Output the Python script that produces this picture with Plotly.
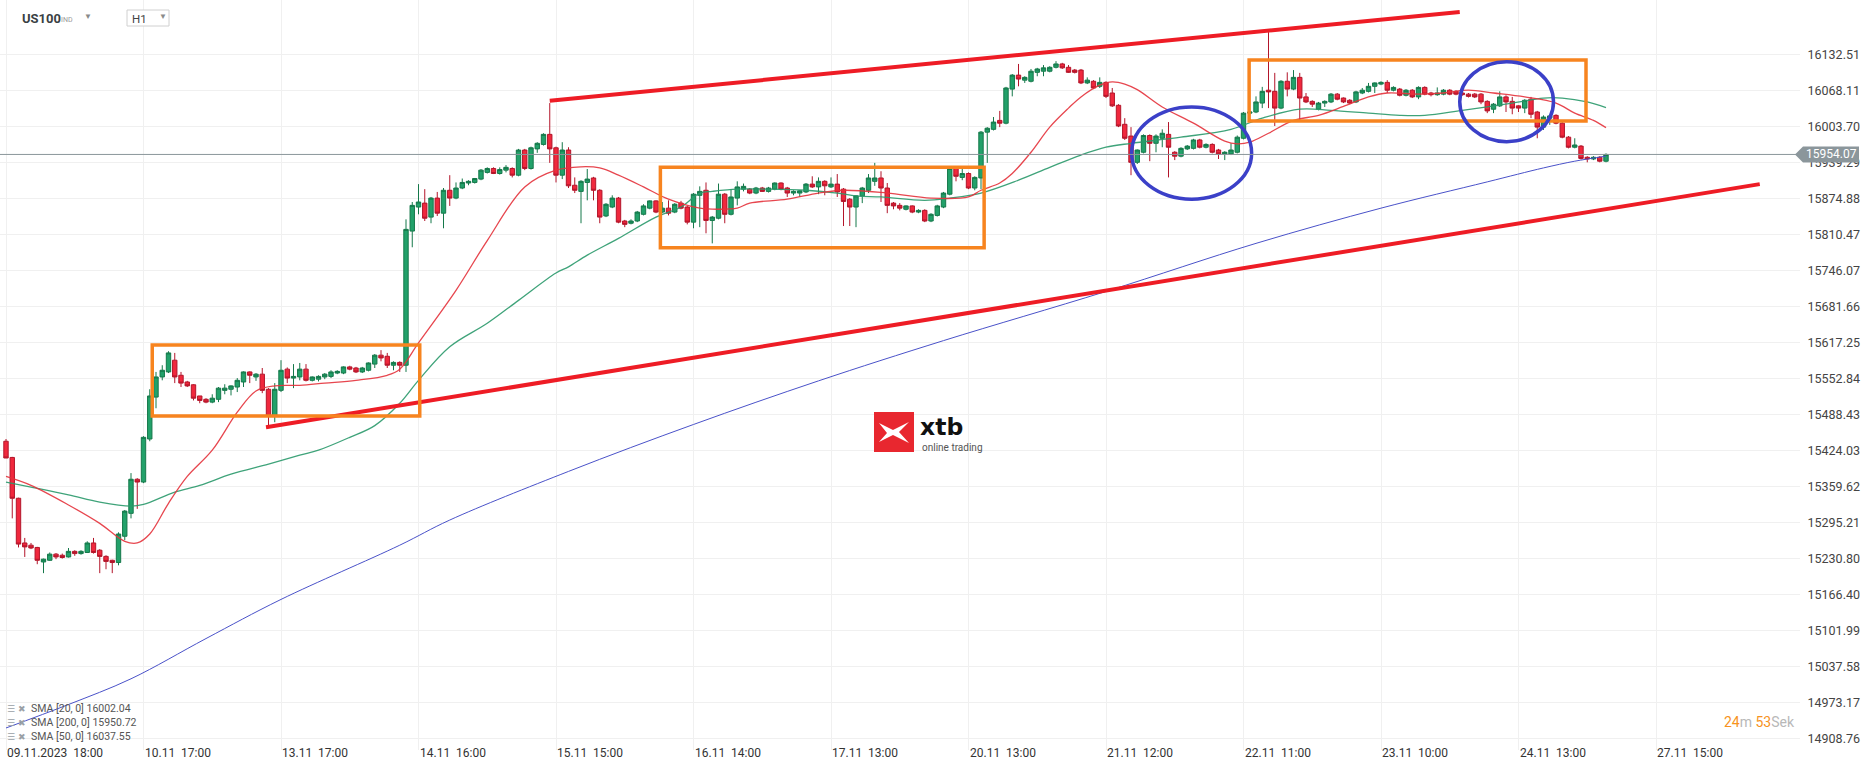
import plotly.graph_objects as go

# ---------------- data ----------------
opens = [15441,15412,15339,15259,15255,15251,15225,15228,15239,15237,
15234,15244,15240,15242,15259,15246,15235,15228,15224,15271,
15312,15373,15368,15445,15520,15556,15565,15586,15559,15547,
15542,15522,15516,15511,15516,15532,15534,15538,15547,15565,
15556,15561,15534,15486,15532,15570,15554,15556,15570,15550,
15552,15556,15557,15563,15563,15574,15572,15565,15568,15579,
15595,15593,15577,15582,15577,15817,15860,15867,15842,15876,
15849,15890,15876,15894,15903,15904,15910,15922,15929,15920,
15926,15929,15917,15962,15929,15964,15972,15990,15966,15917,
15962,15899,15888,15904,15912,15890,15844,15860,15876,15835,
15831,15835,15847,15858,15871,15851,15858,15851,15867,15860,
15833,15881,15890,15836,15840,15883,15847,15876,15892,15892,
15885,15894,15888,15892,15903,15894,15885,15885,15887,15901,
15896,15906,15896,15901,15892,15874,15860,15880,15890,15906,
15912,15894,15867,15863,15856,15862,15851,15854,15835,15845,
15860,15883,15929,15913,15920,15894,15912,15994,15999,16015,
16010,16071,16096,16087,16085,16101,16103,16103,16110,16116,
16110,16105,16105,16082,16085,16076,16083,16064,16042,16008,
15987,15940,15958,15988,15974,15983,15990,15958,15951,15964,
15965,15980,15967,15972,15962,15955,15955,15958,15983,16028,
16030,16046,16069,16067,16037,16085,16071,16092,16057,16049,
16035,16046,16048,16062,16055,16051,16048,16064,16067,16076,
16080,16083,16069,16071,16060,16069,16057,16074,16064,16061,
16062,16069,16067,16064,16062,16062,16062,16049,16035,16041,
16057,16049,16041,16037,16053,16030,16003,16019,16024,16010,
15985,15967,15969,15949,15946,15949,15942]

highs = [15445,15413,15340,15268,15259,15252,15231,15242,15241,15240,
15250,15246,15246,15262,15268,15248,15237,15229,15278,15318,
15384,15375,15450,15534,15565,15577,15602,15599,15565,15549,
15543,15522,15518,15525,15538,15543,15541,15554,15566,15566,
15563,15572,15536,15545,15586,15573,15579,15581,15579,15557,
15559,15563,15568,15568,15575,15576,15574,15574,15582,15597,
15604,15599,15584,15584,15838,15869,15901,15892,15878,15887,
15894,15917,15904,15911,15908,15912,15928,15931,15931,15931,
15935,15931,15964,15964,15968,15976,15992,16046,15968,15976,
15967,15913,15908,15928,15914,15892,15867,15881,15878,15837,
15838,15853,15865,15872,15872,15869,15872,15867,15871,15862,
15885,15897,15904,15844,15902,15885,15892,15906,15902,15894,
15896,15896,15896,15904,15904,15896,15890,15890,15903,15915,
15913,15908,15913,15919,15894,15876,15881,15896,15919,15939,
15924,15903,15869,15867,15863,15863,15856,15856,15849,15864,
15887,15931,15931,15928,15922,15915,15996,16003,16021,16032,
16075,16098,16116,16094,16107,16109,16114,16112,16121,16118,
16114,16107,16107,16092,16087,16092,16085,16073,16044,16019,
16003,15963,15990,15990,15990,15999,16012,15960,15967,15971,
15982,15982,15974,15974,15964,15960,15974,15988,16030,16032,
16058,16075,16173,16100,16087,16101,16105,16100,16064,16051,
16048,16051,16064,16064,16056,16053,16068,16073,16082,16083,
16085,16087,16076,16073,16071,16071,16076,16076,16066,16074,
16071,16071,16069,16066,16064,16064,16064,16051,16046,16067,
16060,16057,16042,16053,16057,16032,16024,16024,16026,16012,
15987,15983,15971,15951,15951,15951,15956]

lows = [15411,15303,15251,15234,15248,15221,15205,15227,15230,15231,
15233,15236,15238,15241,15240,15205,15212,15205,15219,15264,
15303,15320,15366,15441,15500,15550,15563,15545,15538,15538,
15514,15509,15509,15509,15511,15525,15523,15529,15538,15545,
15549,15527,15466,15475,15529,15545,15536,15550,15548,15548,
15548,15552,15554,15561,15561,15568,15563,15563,15566,15572,
15584,15572,15568,15565,15565,15788,15847,15835,15831,15844,
15822,15862,15874,15892,15899,15902,15908,15920,15919,15918,
15922,15913,15915,15926,15927,15957,15970,15939,15904,15910,
15894,15885,15831,15872,15872,15831,15842,15858,15831,15824,
15829,15833,15845,15856,15849,15849,15845,15849,15856,15829,
15822,15824,15813,15795,15838,15831,15845,15863,15888,15883,
15883,15887,15886,15890,15890,15878,15881,15878,15885,15894,
15883,15881,15894,15878,15826,15826,15824,15867,15885,15898,
15869,15849,15856,15854,15854,15849,15849,15833,15833,15843,
15858,15881,15906,15908,15892,15890,15892,15939,15997,16003,
16008,16058,16076,16082,16083,16094,16094,16101,16108,16107,
16100,16099,16080,16080,16071,16073,16055,16039,16003,15980,
15917,15937,15956,15942,15958,15967,15913,15944,15949,15962,
15963,15965,15965,15956,15946,15944,15953,15956,15981,16026,
16028,16037,16037,16005,16035,16058,16069,16015,16046,16039,
16033,16039,16046,16051,16046,16044,16046,16062,16065,16064,
16078,16064,16067,16058,16058,16055,16053,16060,16058,16059,
16060,16060,16060,16059,16056,16055,16044,16028,16028,16039,
16030,16026,16030,16028,16019,15983,15998,16007,16008,15983,
15965,15965,15945,15940,15944,15940,15940]

closes = [15411,15339,15257,15252,15250,15228,15230,15239,15234,15233,
15244,15240,15244,15259,15242,15235,15226,15224,15275,15316,
15373,15368,15448,15522,15556,15568,15599,15556,15545,15540,
15518,15514,15511,15518,15536,15536,15540,15550,15565,15559,
15561,15532,15486,15534,15568,15554,15557,15570,15550,15556,
15557,15561,15565,15566,15574,15570,15565,15572,15581,15595,
15590,15577,15582,15577,15820,15863,15869,15840,15876,15849,
15890,15876,15894,15904,15906,15911,15926,15929,15920,15927,
15931,15917,15962,15929,15966,15974,15990,15964,15917,15962,
15898,15890,15906,15910,15890,15842,15865,15876,15833,15829,
15835,15851,15862,15871,15851,15858,15849,15865,15858,15833,
15883,15888,15836,15842,15883,15847,15878,15896,15897,15885,
15894,15888,15894,15903,15892,15885,15888,15889,15901,15896,
15906,15898,15901,15887,15870,15860,15880,15894,15912,15912,
15894,15863,15862,15858,15862,15851,15854,15835,15847,15862,
15885,15929,15915,15920,15894,15913,15994,16001,16012,16010,
16073,16096,16089,16092,16103,16107,16109,16110,16116,16109,
16101,16101,16082,16087,16073,16083,16058,16041,16005,15983,
15940,15962,15988,15974,15987,15992,15967,15951,15965,15969,
15980,15967,15972,15958,15955,15958,15962,15985,16028,16030,
16048,16067,16066,16037,16085,16071,16092,16055,16048,16044,
16046,16049,16062,16053,16048,16046,16066,16069,16076,16082,
16083,16069,16074,16060,16069,16057,16074,16062,16061,16064,
16069,16062,16062,16061,16058,16057,16048,16032,16044,16057,
16048,16037,16037,16051,16026,16003,16021,16023,16010,15985,
15967,15971,15947,15946,15949,15942,15954.07]

# x axis labels (one every 22 hourly candles)
xtick_idx = [0, 22, 44, 66, 88, 110, 132, 154, 176, 198, 220, 242, 264]
xtick_text = ["09.11.2023  18:00", "10.11  17:00", "13.11  17:00", "14.11  16:00",
              "15.11  15:00", "16.11  14:00", "17.11  13:00", "20.11  13:00",
              "21.11  12:00", "22.11  11:00", "23.11  10:00", "24.11  13:00",
              "27.11  15:00"]

ytick_vals = [16132.51, 16068.11, 16003.70, 15939.29, 15874.88, 15810.47, 15746.07,
              15681.66, 15617.25, 15552.84, 15488.43, 15424.03, 15359.62, 15295.21,
              15230.80, 15166.40, 15101.99, 15037.58, 14973.17, 14908.76]

# moving averages (sampled from the chart)
sma20_x = [0,4,10,15,19,21,23,26,29,33,37,40,43,47,51,56,61,63,66,72,77,83,88,92,95,98,
           102,106,111,114,117,119,125,130,134,141,148,154,156,159,161,164,167,170,172,
           175,177,179,181,185,190,195,197,199,202,206,210,214,218,221,226,230,234,238,
           243,248,251,254,256]
sma20_y = [15378,15362,15327,15294,15262,15259,15275,15330,15378,15425,15493,15531,15540,
           15541,15545,15550,15559,15570,15617,15711,15800,15896,15926,15932,15930,15917,
           15896,15874,15858,15856,15858,15867,15874,15885,15890,15885,15876,15878,15890,
           15903,15920,15958,16003,16037,16057,16078,16084,16080,16070,16039,16010,15978,
           15973,15976,15992,16015,16024,16040,16057,16064,16062,16064,16069,16064,16057,
           16046,16028,16015,16002]

sma50_x = [0,4,10,15,20,22,27,31,36,42,47,50,55,59,63,66,71,77,82,88,90,93,98,104,108,
           111,113,117,122,128,133,136,140,147,151,156,162,167,172,176,180,188,196,201,
           207,212,218,223,227,233,241,246,249,253,256]
sma50_y = [15368,15359,15345,15332,15325,15328,15350,15362,15382,15400,15416,15425,15448,
           15469,15509,15550,15610,15652,15693,15742,15753,15774,15804,15842,15860,15885,
           15888,15892,15892,15890,15885,15880,15878,15872,15876,15885,15908,15931,15953,
           15967,15974,15985,15999,16019,16035,16033,16028,16024,16024,16033,16046,16055,
           16055,16048,16038]

sma200_x = [0,10,20,32,44,63,71,90,110,130,150,176,200,220,237,246,251,256]
sma200_y = [14928,14970,15016,15088,15158,15255,15300,15387,15471,15549,15621,15709,
            15795,15858,15905,15930,15942,15951]

legend_rows = ["SMA [20, 0] 16002.04", "SMA [200, 0] 15950.72", "SMA [50, 0] 16037.55"]

# drawings on the chart (candle index, price)
trend_lines = [((41.6, 15466), (280.6, 15901)), ((87.0, 16050), (232.6, 16209))]
boxes = [(23.4, 66.2, 15486, 15613), (104.7, 156.5, 15787, 15931), (198.9, 252.8, 16014, 16123)]
ellipses = [(180.1, 199.3, 15874, 16039), (232.6, 247.6, 15977, 16120)]

# ---------------- figure ----------------
idx = list(range(len(opens)))
PW, PH = 1800.0, 750.0


def xp(px):
    return px / PW


def yp(py):
    return 1 - py / PH


fig = go.Figure()

fig.add_trace(go.Candlestick(
    x=idx, open=opens, high=highs, low=lows, close=closes,
    increasing=dict(fillcolor="#22a16a", line=dict(color="#15784a", width=1)),
    decreasing=dict(fillcolor="#f0283d", line=dict(color="#b3152a", width=1)),
    whiskerwidth=0, hoverinfo="skip", name="US100"))

fig.add_trace(go.Scatter(x=sma200_x, y=sma200_y, mode="lines",
                         line=dict(color="#4a52c9", width=1, shape="spline"), hoverinfo="skip"))
fig.add_trace(go.Scatter(x=sma50_x, y=sma50_y, mode="lines",
                         line=dict(color="#2b9a6c", width=1.3, shape="spline"), opacity=0.9,
                         hoverinfo="skip"))
fig.add_trace(go.Scatter(x=sma20_x, y=sma20_y, mode="lines",
                         line=dict(color="#e5333c", width=1.3, shape="spline"), opacity=0.9,
                         hoverinfo="skip"))

shapes = []
for (x0, y0), (x1, y1) in trend_lines:
    shapes.append(dict(type="line", xref="x", yref="y", x0=x0, y0=y0, x1=x1, y1=y1,
                       line=dict(color="#ee1c25", width=4)))
for x0, x1, y0, y1 in boxes:
    shapes.append(dict(type="rect", xref="x", yref="y", x0=x0, x1=x1, y0=y0, y1=y1,
                       line=dict(color="#f7841f", width=3.5)))
for x0, x1, y0, y1 in ellipses:
    shapes.append(dict(type="circle", xref="x", yref="y", x0=x0, x1=x1, y0=y0, y1=y1,
                       line=dict(color="#3b40c8", width=3.5)))

last_price = closes[-1]
shapes.append(dict(type="line", xref="paper", yref="y", x0=0, x1=xp(1796), y0=last_price,
                   y1=last_price, line=dict(color="#8b969b", width=1)))
# price tag arrow + box
shapes.append(dict(type="path", xref="paper", yref="paper",
                   path="M %f,%f L %f,%f L %f,%f Z" % (xp(1795), yp(154.5), xp(1803), yp(146.5),
                                                        xp(1803), yp(162.5)),
                   fillcolor="#8b969b", line=dict(width=0)))
shapes.append(dict(type="rect", xref="paper", yref="paper", x0=xp(1803), x1=xp(1859),
                   y0=yp(162.5), y1=yp(146.5), fillcolor="#8b969b", line=dict(width=0)))
# H1 selector box
shapes.append(dict(type="rect", xref="paper", yref="paper", x0=xp(127), x1=xp(169),
                   y0=yp(26), y1=yp(10), line=dict(color="#d0d0d0", width=1),
                   fillcolor="white"))
# logo
shapes.append(dict(type="rect", xref="paper", yref="paper", x0=xp(874), x1=xp(914),
                   y0=yp(452), y1=yp(412), fillcolor="#e8272f", line=dict(width=0)))
shapes.append(dict(type="path", xref="paper", yref="paper",
                   path="M %f,%f L %f,%f L %f,%f L %f,%f L %f,%f L %f,%f L %f,%f L %f,%f Z" % (
                       xp(879), yp(423), xp(893), yp(430), xp(909), yp(422), xp(899), yp(432),
                       xp(909), yp(443), xp(893), yp(435), xp(879), yp(442), xp(887), yp(433)),
                   fillcolor="white", line=dict(width=0)))

annotations = []
for k, t in zip(xtick_idx, xtick_text):
    annotations.append(dict(x=k, y=yp(753), xref="x", yref="paper", xanchor="left",
                            yanchor="middle", text=t.replace("  ", "\u00a0 "), showarrow=False,
                            xshift=-1, font=dict(size=12, color="#333")))
annotations.append(dict(x=xp(1804), y=yp(154.5), xref="paper", yref="paper", xanchor="left",
                        yanchor="middle", text="%.2f" % last_price, showarrow=False,
                        font=dict(size=12, color="white")))
# header
annotations += [
    dict(x=xp(20), y=yp(19), xref="paper", yref="paper", xanchor="left", yanchor="middle",
         text="<b>US100</b>", showarrow=False, font=dict(size=13, color="#3a3f44")),
    dict(x=xp(59), y=yp(20), xref="paper", yref="paper", xanchor="left", yanchor="middle",
         text="IND", showarrow=False, font=dict(size=7, color="#9a9a9a")),
    dict(x=xp(82), y=yp(17), xref="paper", yref="paper", xanchor="left", yanchor="middle",
         text="▼", showarrow=False, font=dict(size=8, color="#8a8a8a")),
    dict(x=xp(130), y=yp(19), xref="paper", yref="paper", xanchor="left", yanchor="middle",
         text="H1", showarrow=False, font=dict(size=11.5, color="#444")),
    dict(x=xp(157), y=yp(16.5), xref="paper", yref="paper", xanchor="left", yanchor="middle",
         text="▼", showarrow=False, font=dict(size=8, color="#8a8a8a")),
]
# logo text
annotations += [
    dict(x=xp(918), y=yp(427), xref="paper", yref="paper", xanchor="left", yanchor="middle",
         text="<b>xtb</b>", showarrow=False,
         font=dict(size=23.5, color="#111", family="DejaVu Sans")),
    dict(x=xp(920), y=yp(447), xref="paper", yref="paper", xanchor="left", yanchor="middle",
         text="online trading", showarrow=False, font=dict(size=10, color="#555")),
]
# indicator legend
for i, row in enumerate(legend_rows):
    yy = 708.5 + 14 * i
    annotations.append(dict(x=xp(5), y=yp(yy), xref="paper", yref="paper", xanchor="left",
                            yanchor="middle", text="☰", showarrow=False,
                            font=dict(size=9, color="#9aa0a6", family="DejaVu Sans")))
    annotations.append(dict(x=xp(16), y=yp(yy), xref="paper", yref="paper", xanchor="left",
                            yanchor="middle", text="✖", showarrow=False,
                            font=dict(size=9, color="#9aa0a6", family="DejaVu Sans")))
    annotations.append(dict(x=xp(29), y=yp(yy), xref="paper", yref="paper", xanchor="left",
                            yanchor="middle", text=row, showarrow=False,
                            font=dict(size=10.5, color="#555")))
# countdown
annotations.append(dict(x=xp(1722), y=yp(722), xref="paper", yref="paper", xanchor="left",
                        yanchor="middle", showarrow=False,
                        text='<span style="color:#f7931e">24</span>m '
                             '<span style="color:#f7931e">53</span>Sek',
                        font=dict(size=14, color="#b8b8b8")))

fig.update_layout(
    width=1866, height=767,
    margin=dict(l=0, r=66, t=0, b=17),
    paper_bgcolor="white", plot_bgcolor="white",
    showlegend=False, hovermode=False,
    font=dict(family="Roboto", color="#333"),
    boxgap=0.3, boxgroupgap=0,
    shapes=shapes, annotations=annotations,
    xaxis=dict(range=[-0.96, 287.04], tickvals=xtick_idx, showticklabels=False,
               showgrid=True, gridcolor="#f0f0f0", zeroline=False, showline=False,
               rangeslider=dict(visible=False), fixedrange=True),
    yaxis=dict(range=[14888.6, 16230.4], tickvals=ytick_vals,
               ticktext=["%.2f" % v for v in ytick_vals], side="right",
               showgrid=True, gridcolor="#f0f0f0", zeroline=False, showline=False,
               ticks="outside", ticklen=4, tickcolor="rgba(0,0,0,0)",
               tickfont=dict(size=12.5, color="#444"), fixedrange=True),
)

fig.write_html("out.html", config={"displayModeBar": False},
               post_script="document.body.style.margin='0';document.body.style.overflow='hidden';")
